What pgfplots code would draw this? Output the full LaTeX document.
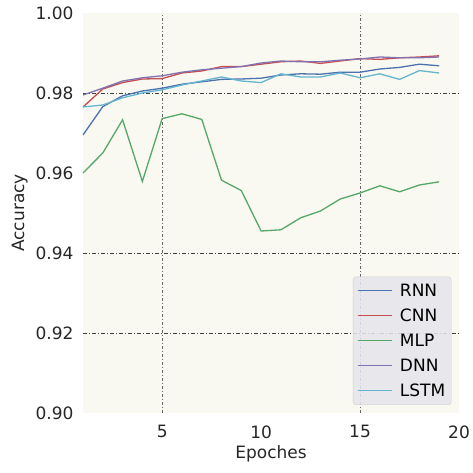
\documentclass[border=0pt]{standalone}
\usepackage{pgfplots}
\pgfplotsset{compat=1.18}
\usepackage{fontspec}
\setmainfont{DejaVu Sans}
\definecolor{cRNN}{HTML}{4C72B0}
\definecolor{cCNN}{HTML}{C44E52}
\definecolor{cMLP}{HTML}{55A868}
\definecolor{cDNN}{HTML}{8172B2}
\definecolor{cLSTM}{HTML}{64B5CD}
\definecolor{bg}{HTML}{F9F9F1}
\definecolor{legbg}{HTML}{E6E6EC}
\begin{document}
\begin{tikzpicture}
\begin{axis}[
  scale only axis, width=376pt, height=400pt,
  xmin=1, xmax=20, ymin=0.90, ymax=1.00,
  xtick={5,10,15,20},
  ytick={0.90,0.92,0.94,0.96,0.98,1.00},
  yticklabel style={/pgf/number format/fixed, /pgf/number format/fixed zerofill, /pgf/number format/precision=2, xshift=-6pt},
  /pgf/number format/assume math mode=true,
  tick label style={font=\fontsize{17}{20}\selectfont, text=black!85},
  label style={font=\fontsize{17}{20}\selectfont, text=black!85},
  major tick length=0pt,
  xticklabel style={yshift=-9pt},
  axis line style={draw=none},
  axis background/.style={fill=bg},
  extra x ticks={5,15}, extra x tick labels={},
  extra x tick style={grid=major, major grid style={black!60, dash pattern=on 3pt off 2pt on 1pt off 2pt, line width=0.7pt}},
  extra y ticks={0.92,0.94,0.98}, extra y tick labels={},
  extra y tick style={grid=major, major grid style={black!75, dash pattern=on 4pt off 2pt on 1pt off 2pt, line width=0.7pt}},
  xlabel={Epoches}, ylabel={Accuracy},
  ylabel style={yshift=1pt},
  legend style={at={(0.98,0.02)}, anchor=south east, fill=legbg, fill opacity=0.85, text opacity=1, draw=black!18, rounded corners=3pt,
    font=\fontsize{17}{20}\selectfont, row sep=7pt, column sep=6pt, inner xsep=4pt, inner ysep=5pt},
  legend cell align=left,
  legend image code/.code={\draw[#1, line width=0.9pt] (0pt,0pt) -- (34pt,0pt);},
  every axis plot/.append style={line width=1.3pt},
]
\coordinate (ll) at (rel axis cs:0,0);
\coordinate (ur) at (rel axis cs:1,1);
\addplot[cRNN] coordinates {(1,0.9695)(2,0.9766)(3,0.9793)(4,0.9805)(5,0.9812)(6,0.9822)(7,0.9828)(8,0.9834)(9,0.9835)(10,0.9837)(11,0.9845)(12,0.9848)(13,0.9847)(14,0.9852)(15,0.9852)(16,0.9860)(17,0.9864)(18,0.9872)(19,0.9868)};
\addlegendentry{RNN}
\addplot[cCNN] coordinates {(1,0.9765)(2,0.9810)(3,0.9826)(4,0.9835)(5,0.9836)(6,0.9850)(7,0.9855)(8,0.9866)(9,0.9866)(10,0.9872)(11,0.9878)(12,0.9880)(13,0.9874)(14,0.9880)(15,0.9886)(16,0.9884)(17,0.9888)(18,0.9890)(19,0.9893)};
\addlegendentry{CNN}
\addplot[cMLP] coordinates {(1,0.9600)(2,0.9650)(3,0.9733)(4,0.9579)(5,0.9736)(6,0.9748)(7,0.9734)(8,0.9582)(9,0.9556)(10,0.9455)(11,0.9458)(12,0.9488)(13,0.9505)(14,0.9535)(15,0.9550)(16,0.9568)(17,0.9553)(18,0.9570)(19,0.9578)};
\addlegendentry{MLP}
\addplot[cDNN] coordinates {(1,0.9795)(2,0.9812)(3,0.9830)(4,0.9838)(5,0.9843)(6,0.9852)(7,0.9858)(8,0.9862)(9,0.9866)(10,0.9875)(11,0.9880)(12,0.9878)(13,0.9878)(14,0.9882)(15,0.9885)(16,0.9890)(17,0.9888)(18,0.9888)(19,0.9890)};
\addlegendentry{DNN}
\addplot[cLSTM] coordinates {(1,0.9765)(2,0.9770)(3,0.9788)(4,0.9800)(5,0.9808)(6,0.9820)(7,0.9830)(8,0.9840)(9,0.9830)(10,0.9826)(11,0.9848)(12,0.9840)(13,0.9840)(14,0.9850)(15,0.9838)(16,0.9848)(17,0.9834)(18,0.9856)(19,0.9850)};
\addlegendentry{LSTM}
\end{axis}
\pgfresetboundingbox
\path[use as bounding box] ([xshift=-83pt,yshift=-60pt]ll) rectangle ([xshift=13pt,yshift=13pt]ur);
\end{tikzpicture}
\end{document}
